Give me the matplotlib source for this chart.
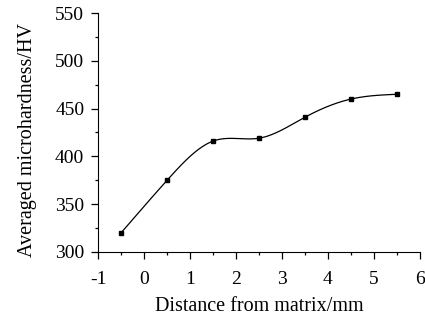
import numpy as np
from matplotlib import pyplot as plt
from matplotlib.ticker import MultipleLocator

plt.rcParams['font.family'] = ['Liberation Serif', 'DejaVu Serif']
plt.rcParams['axes.unicode_minus'] = False

distance = [-0.5, 0.5, 1.5, 2.5, 3.5, 4.5, 5.5]
hardness = [320, 375, 416, 419, 441, 460, 465]


def natural_spline(x, y, n=300):
    x = np.asarray(x, float)
    y = np.asarray(y, float)
    h = np.diff(x)
    m = len(x)
    A = np.zeros((m, m))
    r = np.zeros(m)
    A[0, 0] = A[-1, -1] = 1
    for i in range(1, m - 1):
        A[i, i - 1] = h[i - 1]
        A[i, i] = 2 * (h[i - 1] + h[i])
        A[i, i + 1] = h[i]
        r[i] = 6 * ((y[i + 1] - y[i]) / h[i] - (y[i] - y[i - 1]) / h[i - 1])
    M = np.linalg.solve(A, r)
    xs = np.linspace(x[0], x[-1], n)
    k = np.clip(np.searchsorted(x, xs) - 1, 0, m - 2)
    t0 = x[k + 1] - xs
    t1 = xs - x[k]
    hk = h[k]
    ys = (M[k] * t0 ** 3 + M[k + 1] * t1 ** 3) / (6 * hk) \
        + (y[k] / hk - M[k] * hk / 6) * t0 + (y[k + 1] / hk - M[k + 1] * hk / 6) * t1
    return xs, ys


fig = plt.figure(figsize=(4.25, 3.2), dpi=100)
ax = fig.add_axes([0.231, 0.213, 0.757, 0.746])

xs, ys = natural_spline(distance, hardness)
ax.plot(xs, ys, color='black', lw=0.9)
ax.plot(distance, hardness, 's', color='black', ms=3.5)

ax.set_xlim(-1, 6)
ax.set_ylim(300, 550)
ax.xaxis.set_major_locator(MultipleLocator(1))
ax.xaxis.set_minor_locator(MultipleLocator(0.5))
ax.yaxis.set_major_locator(MultipleLocator(50))
ax.yaxis.set_minor_locator(MultipleLocator(25))
ax.spines['top'].set_visible(False)
ax.spines['right'].set_visible(False)
ax.tick_params(which='major', direction='out', length=5, width=0.9, labelsize=14)
ax.tick_params(which='minor', direction='out', length=2.5, width=0.9)
ax.tick_params(axis='x', which='major', pad=8.5)
ax.tick_params(axis='y', which='major', pad=5)

ax.set_xlabel('Distance from matrix/mm', fontsize=14.5, labelpad=7)
ax.set_ylabel('Averaged microhardness/HV', fontsize=14.5, labelpad=13, y=0.47)

fig.savefig('out.png', dpi=100)
